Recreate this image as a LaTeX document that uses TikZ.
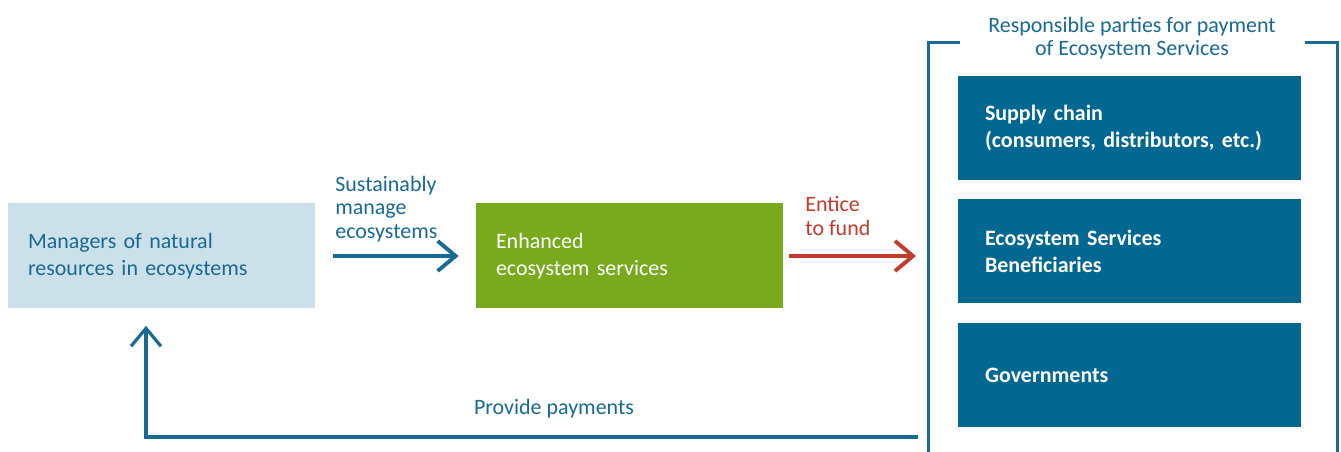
\documentclass[tikz,border=0pt]{standalone}
\usepackage{fontspec}
\setmainfont{Carlito}
\usetikzlibrary{arrows.meta}

\definecolor{pesblue}{RGB}{3,104,145}
\definecolor{peslight}{RGB}{204,224,233}
\definecolor{pesgreen}{RGB}{120,170,30}
\definecolor{pestext}{RGB}{24,106,148}
\definecolor{pesred}{RGB}{196,58,42}

\begin{document}
\begin{tikzpicture}
[every node/.style={font=\fontsize{12.5}{15.4}\selectfont},
box/.style={rectangle,minimum height=2.1cm,align=left,inner xsep=0.4cm,text width=5.34cm},
party/.style={box,fill=pesblue,text=white,inner xsep=0.54cm,text width=5.78cm,minimum height=2.08cm,
  font=\fontsize{12.5}{15.4}\selectfont\bfseries},
lbl/.style={align=left,inner sep=0pt,font=\fontsize{12.5}{13.2}\selectfont},
flow/.style={line width=2.2pt,-{Straight Barb[length=0.36cm,width=0.6cm]}}]
\useasboundingbox (0,0) rectangle (26.82,9.04);
\node[box,fill=peslight,text=pestext] (mgr) at (3.23,3.92) {Managers of natural\\resources in ecosystems};
\node[box,fill=pesgreen,text=white] (enh) at (12.59,3.92) {Enhanced\\ecosystem services};
\node[party] (sup) at (22.59,6.48) {Supply chain\\(consumers, distributors, etc.)};
\node[party] (ben) at (22.59,4.02) {Ecosystem Services\\Beneficiaries};
\node[party] (gov) at (22.59,1.54) {Governments};
\node[lbl,align=center,text=pestext] (title) at (22.64,8.28) {Responsible parties for payment\\of Ecosystem Services};
\node[lbl,text=pestext,anchor=west] (manage) at (6.70,4.86) {Sustainably\\manage\\ecosystems};
\node[lbl,text=pesred,anchor=west] (entice) at (16.10,4.72) {Entice\\to fund};
\node[lbl,text=pestext] (paylbl) at (11.08,0.86) {Provide payments};
\coordinate (frmW) at (18.32,3.92);
\coordinate (pay) at (18.36,0.30);
% frame round the parties
\draw[pestext,line width=1.7pt] (18.56,0) -- (18.56,8.18) -- (19.2,8.18);
\draw[pestext,line width=1.7pt] (26.1,8.18) -- (26.74,8.18) -- (26.74,0);
\draw[flow,pestext,shorten <=0.36cm,shorten >=0.34cm] (mgr) -- (enh);
\draw[flow,pesred,shorten <=0.12cm] (enh) -- (frmW);
\draw[flow,pestext,line width=1.8pt,shorten >=0.34cm] (pay) -| ([xshift=-0.31cm]mgr.south);
\end{tikzpicture}
\end{document}
